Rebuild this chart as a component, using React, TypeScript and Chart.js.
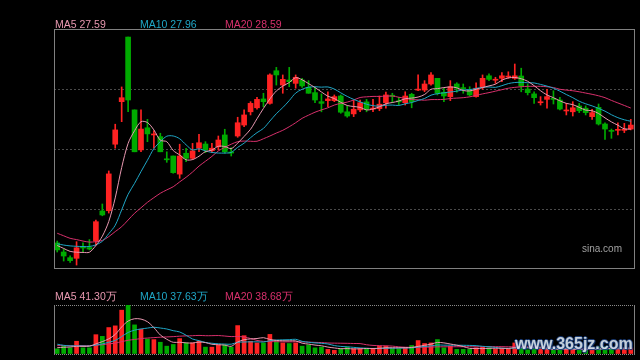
import React, { useEffect, useRef } from "react";
import { Chart, registerables } from "chart.js";

Chart.register(...registerables);

// ---------- price data (one entry per trading day) ----------
const opens = [
  22.24, 21.81, 21.54, 21.51, 22.05, 22.02, 22.33, 23.76, 23.77, 26.93,
  28.95, 32.02, 28.56, 26.66, 27.71, 27.37, 27.29, 26.23, 26.37, 25.51,
  26.50, 26.26, 26.74, 26.94, 26.62, 26.81, 27.37, 26.56, 27.32, 27.84,
  28.47, 28.66, 29.08, 28.87, 30.42, 29.74, 29.98, 29.82, 29.98, 29.63,
  29.38, 28.95, 29.00, 29.00, 29.22, 28.47, 28.37, 28.56, 28.94, 28.60,
  28.62, 28.90, 29.24, 28.97, 28.90, 29.30, 29.50, 29.50, 29.79, 30.06,
  29.40, 29.19, 29.79, 29.60, 29.50, 29.19, 29.66, 30.18, 29.97, 30.06,
  30.12, 30.06, 30.17, 29.55, 29.32, 28.90, 29.06, 29.09, 29.03, 28.51,
  28.47, 28.75, 28.64, 28.24, 28.68, 27.89, 27.57, 27.59, 27.59, 27.65,
];
const highs = [
  22.33, 21.95, 21.63, 22.30, 22.24, 22.40, 23.33, 24.09, 25.66, 27.88,
  29.65, 32.02, 28.56, 28.56, 28.11, 27.56, 27.45, 26.57, 26.37, 26.93,
  26.74, 26.97, 27.40, 27.05, 26.97, 27.32, 27.64, 26.76, 28.21, 28.56,
  28.95, 29.16, 29.35, 30.27, 30.58, 30.22, 30.58, 30.22, 30.06, 29.95,
  29.63, 29.32, 29.42, 29.27, 29.27, 28.75, 29.03, 29.03, 29.06, 29.06,
  29.22, 29.41, 29.35, 29.16, 29.42, 29.35, 30.22, 29.95, 30.33, 30.06,
  29.59, 29.95, 29.85, 29.79, 29.66, 29.85, 30.22, 30.27, 30.11, 30.33,
  30.37, 30.74, 30.54, 29.79, 29.42, 29.19, 29.54, 29.47, 29.16, 28.87,
  28.95, 28.87, 28.75, 28.59, 28.84, 27.95, 27.65, 27.95, 27.92, 28.11,
];
const lows = [
  21.81, 21.38, 21.32, 21.19, 21.81, 21.91, 22.14, 23.53, 23.66, 26.74,
  28.00, 28.47, 26.57, 26.57, 27.05, 26.74, 26.57, 26.07, 25.55, 25.31,
  26.10, 26.21, 26.57, 26.53, 26.53, 26.66, 26.50, 26.37, 27.26, 27.76,
  28.32, 28.59, 28.71, 28.83, 29.74, 29.35, 29.66, 29.59, 29.63, 29.35,
  28.90, 28.47, 28.71, 28.95, 28.40, 28.21, 28.24, 28.47, 28.47, 28.47,
  28.52, 28.64, 28.90, 28.79, 28.79, 28.66, 29.47, 29.42, 29.74, 29.27,
  28.95, 29.00, 29.40, 29.35, 29.22, 29.16, 29.54, 29.95, 29.82, 29.90,
  30.06, 30.01, 29.42, 29.27, 28.87, 28.79, 28.64, 28.84, 28.56, 28.32,
  28.27, 28.43, 28.32, 28.11, 27.84, 27.16, 27.21, 27.37, 27.48, 27.61,
];
const closes = [
  21.91, 21.62, 21.40, 22.01, 22.00, 21.95, 23.25, 23.57, 25.52, 27.61,
  29.14, 29.03, 26.57, 27.65, 27.42, 27.40, 26.57, 26.19, 25.58, 26.37,
  26.26, 26.61, 27.00, 26.66, 26.74, 27.13, 26.57, 26.51, 27.95, 28.32,
  28.87, 29.06, 28.95, 30.22, 30.22, 30.01, 29.90, 30.11, 29.70, 29.35,
  29.03, 28.87, 29.08, 29.19, 28.45, 28.27, 28.59, 28.90, 28.59, 28.64,
  28.83, 29.27, 29.21, 28.94, 29.22, 28.95, 29.54, 29.79, 30.22, 29.35,
  29.22, 29.66, 29.59, 29.57, 29.27, 29.59, 30.06, 30.01, 29.99, 30.18,
  30.15, 30.18, 29.70, 29.38, 29.14, 28.94, 29.19, 29.06, 28.60, 28.54,
  28.66, 28.52, 28.43, 28.43, 27.89, 27.65, 27.54, 27.62, 27.62, 27.84,
];
const ma5 = [
  22.12, 21.98, 21.84, 21.80, 21.79, 21.80, 22.12, 22.56, 23.26, 24.38,
  25.82, 26.97, 27.57, 28.00, 27.96, 27.61, 27.12, 27.05, 26.63, 26.42,
  26.19, 26.20, 26.36, 26.58, 26.65, 26.83, 26.82, 26.72, 26.98, 27.30,
  27.64, 28.14, 28.63, 29.08, 29.46, 29.69, 29.86, 30.09, 29.99, 29.81,
  29.62, 29.41, 29.21, 29.10, 28.92, 28.77, 28.72, 28.68, 28.56, 28.60,
  28.71, 28.85, 28.91, 28.98, 29.09, 29.12, 29.17, 29.29, 29.54, 29.57,
  29.62, 29.65, 29.61, 29.48, 29.46, 29.54, 29.62, 29.70, 29.78, 29.97,
  30.08, 30.10, 30.04, 29.92, 29.71, 29.47, 29.27, 29.14, 28.99, 28.87,
  28.81, 28.68, 28.55, 28.52, 28.39, 28.18, 27.99, 27.83, 27.66, 27.65,
];
const ma10 = [
  22.20, 22.14, 22.10, 22.08, 22.07, 22.07, 22.15, 22.32, 22.68, 23.08,
  23.81, 24.55, 25.07, 25.63, 26.17, 26.72, 27.05, 27.31, 27.32, 27.19,
  26.90, 26.66, 26.71, 26.61, 26.54, 26.51, 26.51, 26.54, 26.78, 26.98,
  27.24, 27.48, 27.68, 28.03, 28.38, 28.67, 29.00, 29.36, 29.54, 29.64,
  29.66, 29.64, 29.65, 29.55, 29.37, 29.20, 29.06, 28.94, 28.83, 28.76,
  28.74, 28.78, 28.79, 28.77, 28.85, 28.91, 29.01, 29.10, 29.26, 29.33,
  29.37, 29.41, 29.45, 29.51, 29.52, 29.58, 29.63, 29.65, 29.63, 29.71,
  29.81, 29.86, 29.87, 29.85, 29.84, 29.77, 29.69, 29.59, 29.45, 29.29,
  29.14, 28.97, 28.85, 28.75, 28.63, 28.50, 28.33, 28.19, 28.09, 28.02,
];
const ma20 = [
  22.70, 22.58, 22.46, 22.40, 22.33, 22.28, 22.30, 22.36, 22.54, 22.78,
  23.01, 23.33, 23.65, 23.91, 24.17, 24.39, 24.60, 24.76, 24.91, 25.14,
  25.36, 25.61, 25.89, 26.12, 26.35, 26.61, 26.78, 26.93, 27.05, 27.08,
  27.07, 27.07, 27.19, 27.32, 27.46, 27.59, 27.76, 27.95, 28.16, 28.31,
  28.45, 28.56, 28.66, 28.79, 28.87, 28.93, 29.03, 29.15, 29.18, 29.20,
  29.20, 29.21, 29.22, 29.16, 29.11, 29.05, 29.04, 29.02, 29.05, 29.05,
  29.06, 29.10, 29.12, 29.14, 29.18, 29.25, 29.32, 29.38, 29.45, 29.52,
  29.59, 29.63, 29.66, 29.68, 29.68, 29.68, 29.66, 29.62, 29.54, 29.50,
  29.47, 29.42, 29.36, 29.30, 29.23, 29.14, 29.01, 28.89, 28.77, 28.65,
];

// ---------- volume data (万) ----------
const volumes = [
  37, 56, 44, 91, 44, 44, 138, 126, 189, 201,
  313, 348, 208, 177, 107, 103, 84, 56, 68, 110,
  79, 79, 91, 49, 49, 63, 65, 49, 203, 131,
  91, 79, 79, 140, 96, 79, 75, 79, 56, 65,
  44, 49, 33, 26, 37, 49, 37, 37, 37, 37,
  56, 56, 37, 37, 42, 61, 96, 75, 79, 103,
  44, 56, 33, 33, 33, 44, 49, 44, 33, 37,
  37, 79, 45, 30, 35, 35, 32, 30, 40, 35,
  30, 30, 28, 35, 50, 50, 35, 40, 38, 44,
];
const volMa5 = [
  45, 48, 50, 55, 54.4, 55.8, 72.2, 88.6, 108.2, 139.6,
  193.4, 235.4, 251.8, 249.4, 230.6, 188.6, 135.8, 105.4, 83.6, 84.2,
  79.4, 78.4, 85.4, 81.6, 69.4, 66.2, 63.4, 55, 85.8, 102.2,
  107.8, 110.6, 116.6, 104, 97, 94.6, 93.8, 93.8, 77, 70.8,
  63.8, 58.6, 49.4, 43.4, 37.8, 38.8, 36.4, 37.2, 39.4, 39.4,
  40.8, 44.6, 44.6, 44.6, 45.6, 46.6, 54.6, 62.2, 70.6, 82.8,
  79.4, 71.4, 63, 53.8, 39.8, 39.8, 38.4, 40.6, 40.6, 41.4,
  40, 46, 46.2, 45.6, 45.2, 44.8, 35.4, 32.4, 34.4, 34.4,
  33.4, 33, 32.6, 31.6, 34.6, 38.6, 39.6, 42, 42.6, 41.4,
];
const volMa10 = [
  70, 62, 58, 58, 57, 57, 64, 72, 84, 97,
  124.6, 153.8, 170.2, 178.8, 185.1, 191, 185.6, 178.6, 166.5, 157.4,
  134, 107.1, 95.4, 82.6, 76.8, 72.8, 70.9, 70.2, 83.7, 85.8,
  87, 87, 85.8, 94.9, 99.6, 101.2, 102.2, 105.2, 90.5, 83.9,
  79.2, 76.2, 71.6, 60.2, 54.3, 51.3, 47.5, 43.3, 41.4, 38.6,
  39.8, 40.5, 40.9, 42, 42.5, 43.7, 49.6, 53.4, 57.6, 64.2,
  63, 63, 62.6, 62.2, 61.3, 59.6, 54.9, 51.8, 47.2, 40.6,
  39.9, 42.2, 43.4, 43.1, 43.3, 42.4, 40.7, 39.3, 40, 39.8,
  39.1, 34.2, 32.5, 33, 34.5, 36, 36.3, 37.3, 37.1, 38,
];
const volMa20 = [
  60, 60, 59, 60, 60, 60, 63, 66, 72, 78,
  88, 98, 104, 110, 114, 117, 120, 122, 124, 127.2,
  129.3, 130.5, 132.8, 130.7, 131, 131.9, 128.3, 124.4, 125.1, 121.6,
  110.5, 97.1, 90.6, 88.8, 88.2, 87, 86.6, 87.7, 87.1, 84.9,
  83.1, 81.6, 78.7, 77.6, 77, 76.3, 74.9, 74.3, 66, 61.3,
  59.5, 58.4, 56.3, 51.1, 48.4, 47.5, 48.6, 48.4, 49.5, 51.4,
  51.4, 51.8, 51.8, 52.1, 51.9, 51.7, 52.3, 52.6, 52.4, 52.4,
  51.5, 52.6, 53, 52.7, 52.3, 51, 47.8, 45.6, 43.6, 40.2,
  39.5, 38.2, 38, 38.1, 38.9, 39.2, 38.5, 38.3, 38.6, 38.9,
];

const categories = closes.map((_, i) => `D${i + 1}`);

// legend texts
const priceLegendNames = ["MA5", "MA10", "MA20"];
const priceLegendValues = ["27.59", "27.96", "28.59"];
const volumeLegendValues = ["41.30万", "37.63万", "38.68万"];

// axis limits
const PRICE_MIN = 20.955;
const PRICE_MAX = 32.355;
const PRICE_GRID = [23.805, 26.655, 29.505];
const VOLUME_MAX = 350;
const VOLUME_GRID_Y = [0, 350];
const VOLUME_GRID_X = [29.5, 59.5];

// styles
const RED = "#ff2222";
const GREEN = "#00aa00";
const LINE_COLORS = ["#e898b0", "#1fa6c6", "#d8306c"];
const BORDER = "#808080";

const candleColors = closes.map((c, i) => (c >= opens[i] ? RED : GREEN));

const mainFramePlugin = {
  id: "mainFrame",
  afterDraw(chart: any) {
    const { ctx, chartArea: a } = chart;
    ctx.save();
    ctx.strokeStyle = BORDER;
    ctx.lineWidth = 1;
    ctx.strokeRect(a.left + 0.5, a.top - 0.5, a.right - a.left, a.bottom - a.top - 1);
    ctx.restore();
  },
};

const volFramePlugin = {
  id: "volFrame",
  afterDraw(chart: any) {
    const { ctx, chartArea: a } = chart;
    ctx.save();
    ctx.strokeStyle = BORDER;
    ctx.lineWidth = 1;
    ctx.beginPath();
    ctx.moveTo(a.left + 0.5, a.top);
    ctx.lineTo(a.left + 0.5, a.bottom + 1);
    ctx.moveTo(a.right + 0.5, a.top);
    ctx.lineTo(a.right + 0.5, a.bottom + 1);
    ctx.stroke();
    ctx.restore();
  },
};

function lineDataset(label: string, data: number[], color: string) {
  return {
    type: "line" as const,
    label,
    data,
    borderColor: color,
    backgroundColor: color,
    borderWidth: 1,
    pointRadius: 0,
    tension: 0.3,
    order: 0,
  };
}

export default function App() {
  const mainRef = useRef<HTMLCanvasElement>(null);
  const volRef = useRef<HTMLCanvasElement>(null);

  useEffect(() => {
    const main = new Chart(mainRef.current as HTMLCanvasElement, {
      type: "bar",
      data: {
        labels: categories,
        datasets: [
          lineDataset("MA5", ma5, LINE_COLORS[0]),
          lineDataset("MA10", ma10, LINE_COLORS[1]),
          lineDataset("MA20", ma20, LINE_COLORS[2]),
          {
            type: "bar",
            label: "wick",
            data: highs.map((h, i) => [lows[i], h]) as any,
            backgroundColor: candleColors,
            barThickness: 1,
            grouped: false,
            order: 2,
          },
          {
            type: "bar",
            label: "body",
            data: opens.map((o, i) => [Math.min(o, closes[i]), Math.max(o, closes[i])]) as any,
            backgroundColor: candleColors,
            barThickness: 5,
            minBarLength: 1,
            grouped: false,
            order: 1,
          },
        ] as any,
      },
      options: {
        animation: false,
        responsive: false,
        maintainAspectRatio: false,
        devicePixelRatio: 1,
        events: [],
        layout: { padding: { left: 54, right: 6, top: 30, bottom: 10 } },
        plugins: { legend: { display: false }, tooltip: { enabled: false } },
        scales: {
          x: { display: false, offset: true },
          y: {
            display: true,
            min: PRICE_MIN,
            max: PRICE_MAX,
            afterBuildTicks: (scale: any) => {
              scale.ticks = PRICE_GRID.map((v) => ({ value: v }));
            },
            ticks: { display: false },
            grid: { color: "#4a4a4a", drawTicks: false, lineWidth: 1 },
            border: { display: false, dash: [2, 2] },
          },
        },
      } as any,
      plugins: [mainFramePlugin],
    });

    const vol = new Chart(volRef.current as HTMLCanvasElement, {
      type: "bar",
      data: {
        labels: categories,
        datasets: [
          lineDataset("MA5", volMa5, LINE_COLORS[0]),
          lineDataset("MA10", volMa10, LINE_COLORS[1]),
          lineDataset("MA20", volMa20, LINE_COLORS[2]),
          {
            type: "bar",
            label: "volume",
            data: volumes,
            backgroundColor: candleColors,
            barThickness: 4,
            grouped: false,
            order: 1,
          },
        ] as any,
      },
      options: {
        animation: false,
        responsive: false,
        maintainAspectRatio: false,
        devicePixelRatio: 1,
        events: [],
        layout: { padding: { left: 54, right: 6, top: 25, bottom: 6 } },
        plugins: { legend: { display: false }, tooltip: { enabled: false } },
        scales: {
          x: {
            display: true,
            offset: true,
            afterBuildTicks: (scale: any) => {
              scale.ticks = VOLUME_GRID_X.map((v) => ({ value: v }));
            },
            ticks: { display: false },
            grid: { color: "#8a8a8a", drawTicks: false, offset: false },
            border: { display: false, dash: [1, 1] },
          },
          y: {
            display: true,
            min: 0,
            max: VOLUME_MAX,
            afterBuildTicks: (scale: any) => {
              scale.ticks = VOLUME_GRID_Y.map((v) => ({ value: v }));
            },
            ticks: { display: false },
            grid: { color: "#8a8a8a", drawTicks: false },
            border: { display: false, dash: [1, 1] },
          },
        },
      } as any,
      plugins: [volFramePlugin],
    });

    return () => {
      main.destroy();
      vol.destroy();
    };
  }, []);

  const legendX = [55, 140, 225];
  const font = 'Arial, "Liberation Sans", sans-serif';

  return (
    <div
      style={{
        position: "absolute",
        left: 0,
        top: 0,
        width: 640,
        height: 360,
        background: "#000",
        overflow: "hidden",
        fontFamily: font,
      }}
    >
      <canvas
        ref={mainRef}
        width={640}
        height={280}
        style={{ position: "absolute", left: 0, top: 0, width: 640, height: 280 }}
      />
      <canvas
        ref={volRef}
        width={640}
        height={80}
        style={{ position: "absolute", left: 0, top: 280, width: 640, height: 80 }}
      />
      {priceLegendNames.map((n, i) => (
        <div
          key={"p" + n}
          style={{
            position: "absolute",
            left: legendX[i],
            top: 18,
            fontSize: 10.5,
            lineHeight: "12px",
            color: LINE_COLORS[i],
            whiteSpace: "nowrap",
          }}
        >
          {n} {priceLegendValues[i]}
        </div>
      ))}
      {priceLegendNames.map((n, i) => (
        <div
          key={"v" + n}
          style={{
            position: "absolute",
            left: legendX[i],
            top: 290,
            fontSize: 10.5,
            lineHeight: "12px",
            color: LINE_COLORS[i],
            whiteSpace: "nowrap",
          }}
        >
          {n} {volumeLegendValues[i]}
        </div>
      ))}
      <div
        style={{
          position: "absolute",
          left: 582,
          top: 243,
          fontSize: 10,
          lineHeight: "12px",
          color: "#a0a0a0",
        }}
      >
        sina.com
      </div>
      <div
        style={{
          position: "absolute",
          left: 515,
          top: 335,
          fontSize: 16,
          fontWeight: "bold",
          lineHeight: "18px",
          color: "#d6e2ee",
          opacity: 0.92,
          textShadow:
            "1px 0 0 #1d3f7a, -1px 0 0 #1d3f7a, 0 1px 0 #1d3f7a, 0 -1px 0 #1d3f7a, 1px 1px 1px #1d3f7a",
          whiteSpace: "nowrap",
        }}
      >
        www.365jz.com
      </div>
    </div>
  );
}
